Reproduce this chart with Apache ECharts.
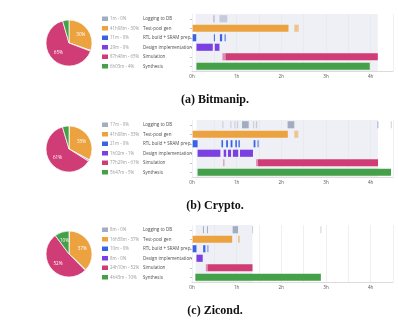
<!DOCTYPE html>
<html>
<head>
<meta charset="utf-8">
<script src="https://cdn.jsdelivr.net/npm/echarts@6/dist/echarts.min.js"></script>
<style>html,body{margin:0;padding:0;background:#fff;}#c{width:398px;height:333px;}</style>
</head>
<body>
<div id="c"></div>
<script>
// ---------- data ----------
const categories = ['Logging to DB', 'Test-pool gen', 'RTL build + SRAM prep', 'Design implementation', 'Simulation', 'Synthesis'];
const xTickLabels = ['0h', '1h', '2h', '3h', '4h'];
const captions = ['(a) Bitmanip.', '(b) Crypto.', '(c) Zicond.'];

const bitmanipLabels = ['1m - 0%', '41h08m - 30%', '11m - 0%', '29m - 0%', '87h48m - 65%', '6h03m - 4%'];
const bitmanipHours = [0.017, 41.13, 0.18, 0.48, 87.8, 6.05];
const bitmanipPct = [0, 30, 0, 0, 65, 4];
// [category index, start h, end h, state (1 = main, 0 = partial)]
const bitmanipSegments = [
  [0, 0.48, 0.495, 1], [0, 0.615, 0.79, 0],
  [1, 0.015, 2.16, 1], [1, 2.29, 2.39, 0],
  [2, 0.015, 0.095, 1], [2, 0.49, 0.505, 1], [2, 0.625, 0.675, 1], [2, 0.73, 0.742, 1],
  [3, 0.1, 0.465, 1], [3, 0.51, 0.615, 1],
  [4, 0.68, 0.75, 0], [4, 0.75, 4.16, 1],
  [5, 0.1, 3.98, 1]
];
const bitmanipActive = [0.08, 4.16];

const cryptoLabels = ['17m - 0%', '41h08m - 33%', '21m - 0%', '1h02m - 1%', '77h29m - 61%', '5h47m - 5%'];
const cryptoHours = [0.283, 41.13, 0.35, 1.03, 77.48, 5.78];
const cryptoPct = [0, 33, 0, 1, 61, 5];
const cryptoSegments = [
  [0, 0.68, 0.695, 0], [0, 0.86, 0.875, 0], [0, 0.95, 0.965, 0], [0, 1.01, 1.025, 0], [0, 1.12, 1.27, 1],
  [0, 1.37, 1.385, 0], [0, 1.43, 1.46, 0], [0, 2.14, 2.29, 1], [0, 4.15, 4.165, 1], [0, 4.45, 4.465, 0],
  [1, 0.015, 2.145, 1], [1, 2.29, 2.38, 0],
  [2, 0.015, 0.125, 1], [2, 0.66, 0.695, 1], [2, 0.765, 0.805, 1], [2, 0.865, 0.905, 1],
  [2, 0.97, 1.005, 1], [2, 1.04, 1.07, 1], [2, 1.38, 1.42, 1], [2, 1.46, 1.5, 0],
  [3, 0.125, 0.635, 1], [3, 0.71, 0.765, 1], [3, 0.805, 0.875, 1], [3, 0.915, 1.035, 1], [3, 1.075, 1.365, 1],
  [4, 0.70, 0.725, 0], [4, 1.435, 1.475, 0], [4, 1.475, 4.165, 1],
  [5, 0.125, 4.455, 1]
];
const cryptoActive = [0.1, 4.165];

const zicondLabels = ['8m - 0%', '16h58m - 37%', '10m - 0%', '8m - 0%', '24h10m - 52%', '4h43m - 10%'];
const zicondHours = [0.133, 16.97, 0.167, 0.133, 24.17, 4.72];
const zicondPct = [0, 37, 0, 0, 52, 10];
const zicondSegments = [
  [0, 0.245, 0.26, 1], [0, 0.335, 0.35, 1], [0, 0.91, 1.03, 1], [0, 1.345, 1.36, 0], [0, 2.875, 2.89, 0],
  [1, 0.015, 0.9, 1], [1, 1.03, 1.07, 0],
  [2, 0.015, 0.1, 1], [2, 0.25, 0.3, 1], [2, 0.34, 0.37, 0],
  [3, 0.1, 0.24, 1],
  [4, 0.31, 0.35, 0], [4, 0.35, 1.355, 1],
  [5, 0.075, 2.885, 1]
];
const zicondActive = [0.08, 1.355];

// ---------- styles / layout ----------
const colors = ['#a3adc2', '#eca33f', '#3a62e6', '#7a40e2', '#d03c75', '#45a04a'];
const panels = [
  { labels: bitmanipLabels, hours: bitmanipHours, pct: bitmanipPct, seg: bitmanipSegments, active: bitmanipActive, top: 14 },
  { labels: cryptoLabels, hours: cryptoHours, pct: cryptoPct, seg: cryptoSegments, active: cryptoActive, top: 120 },
  { labels: zicondLabels, hours: zicondHours, pct: zicondPct, seg: zicondSegments, active: zicondActive, top: 225 }
];
const GRID_LEFT = 192, GRID_W = 201, GRID_H = 57;

const rich = {
  d: { width: 33, padding: [0, 0, 0, 2], fontSize: 4.4, color: '#9a9a9a', fontFamily: 'Open Sans' },
  n: { fontSize: 4.5, color: '#4d4d4d', fontFamily: 'Open Sans' }
};
colors.forEach((c, i) => { rich['b' + i] = { width: 6, height: 4.5, backgroundColor: c }; });

const grid = [], xAxis = [], yAxis = [], series = [], graphic = [];
panels.forEach((p, k) => {
  grid.push({ left: GRID_LEFT, top: p.top, width: GRID_W, height: GRID_H });
  xAxis.push({
    type: 'value', gridIndex: k, min: 0, max: 4.5, interval: 0.5,
    axisLine: { show: true, lineStyle: { color: '#d2d2d2', width: 0.8 } },
    axisTick: { show: false },
    splitLine: { show: true, lineStyle: { color: '#e2e5eb', width: 0.6 } },
    axisLabel: {
      fontSize: 4.6, color: '#555', margin: 3.5, fontFamily: 'Open Sans',
      formatter: v => (Math.abs(v - Math.round(v)) < 1e-6 && xTickLabels[Math.round(v)] !== undefined) ? xTickLabels[Math.round(v)] : ''
    }
  });
  yAxis.push({
    type: 'category', gridIndex: k, data: categories, inverse: true,
    axisLine: { show: false },
    axisTick: { show: true, alignWithLabel: true, length: 2, lineStyle: { color: '#999', width: 0.6 } },
    splitLine: { show: false },
    axisLabel: {
      align: 'left', margin: 90, interval: 0,
      formatter: (v, i) => `{b${i}| }{d|${p.labels[i]}}{n|${v}}`,
      rich: rich
    }
  });
  // active-span background
  series.push({
    type: 'custom', xAxisIndex: k, yAxisIndex: k, z: -1, silent: true,
    data: [[p.active[0], p.active[1]]],
    encode: { x: [0, 1] },
    renderItem: (params, api) => {
      const a = api.coord([api.value(0), 0]);
      const b = api.coord([api.value(1), 0]);
      const cs = params.coordSys;
      return { type: 'rect', shape: { x: a[0], y: cs.y, width: b[0] - a[0], height: cs.height }, style: { fill: '#eef0f6' } };
    }
  });
  // task segments
  series.push({
    type: 'custom', xAxisIndex: k, yAxisIndex: k, z: 3, silent: true,
    data: p.seg,
    encode: { x: [1, 2], y: 0 },
    renderItem: (params, api) => {
      const cat = api.value(0);
      const s = api.coord([api.value(1), cat]);
      const e = api.coord([api.value(2), cat]);
      const h = api.size([0, 1])[1] * 0.75;
      const main = api.value(3) === 1;
      return {
        type: 'rect',
        shape: { x: s[0], y: s[1] - h / 2, width: Math.max(e[0] - s[0], 1), height: h },
        style: { fill: colors[cat], opacity: main ? 1 : 0.55 }
      };
    }
  });
  // pie
  series.push({
    type: 'pie', center: [69, p.top + 29], radius: 23, startAngle: 90, clockwise: true,
    silent: true, animation: false,
    itemStyle: { borderColor: '#fff', borderWidth: 0.7 },
    label: {
      show: true, position: 'inside', color: '#fff', fontSize: 4.6, fontFamily: 'Open Sans',
      formatter: prm => p.pct[prm.dataIndex] >= 8 ? p.pct[prm.dataIndex] + '%' : ''
    },
    labelLine: { show: false },
    emphasis: { disabled: true },
    data: categories.map((c, i) => ({ name: c, value: p.hours[i], itemStyle: { color: colors[i] } }))
  });
  graphic.push({
    type: 'text', x: 215, y: p.top + 86,
    style: { text: captions[k], font: 'bold 12px "Liberation Serif", serif', fill: '#111', align: 'center', verticalAlign: 'middle' }
  });
});

const chart = echarts.init(document.getElementById('c'), null, { renderer: 'canvas' });
chart.setOption({
  backgroundColor: '#fff',
  animation: false,
  grid, xAxis, yAxis, series, graphic
});
</script>
</body>
</html>
